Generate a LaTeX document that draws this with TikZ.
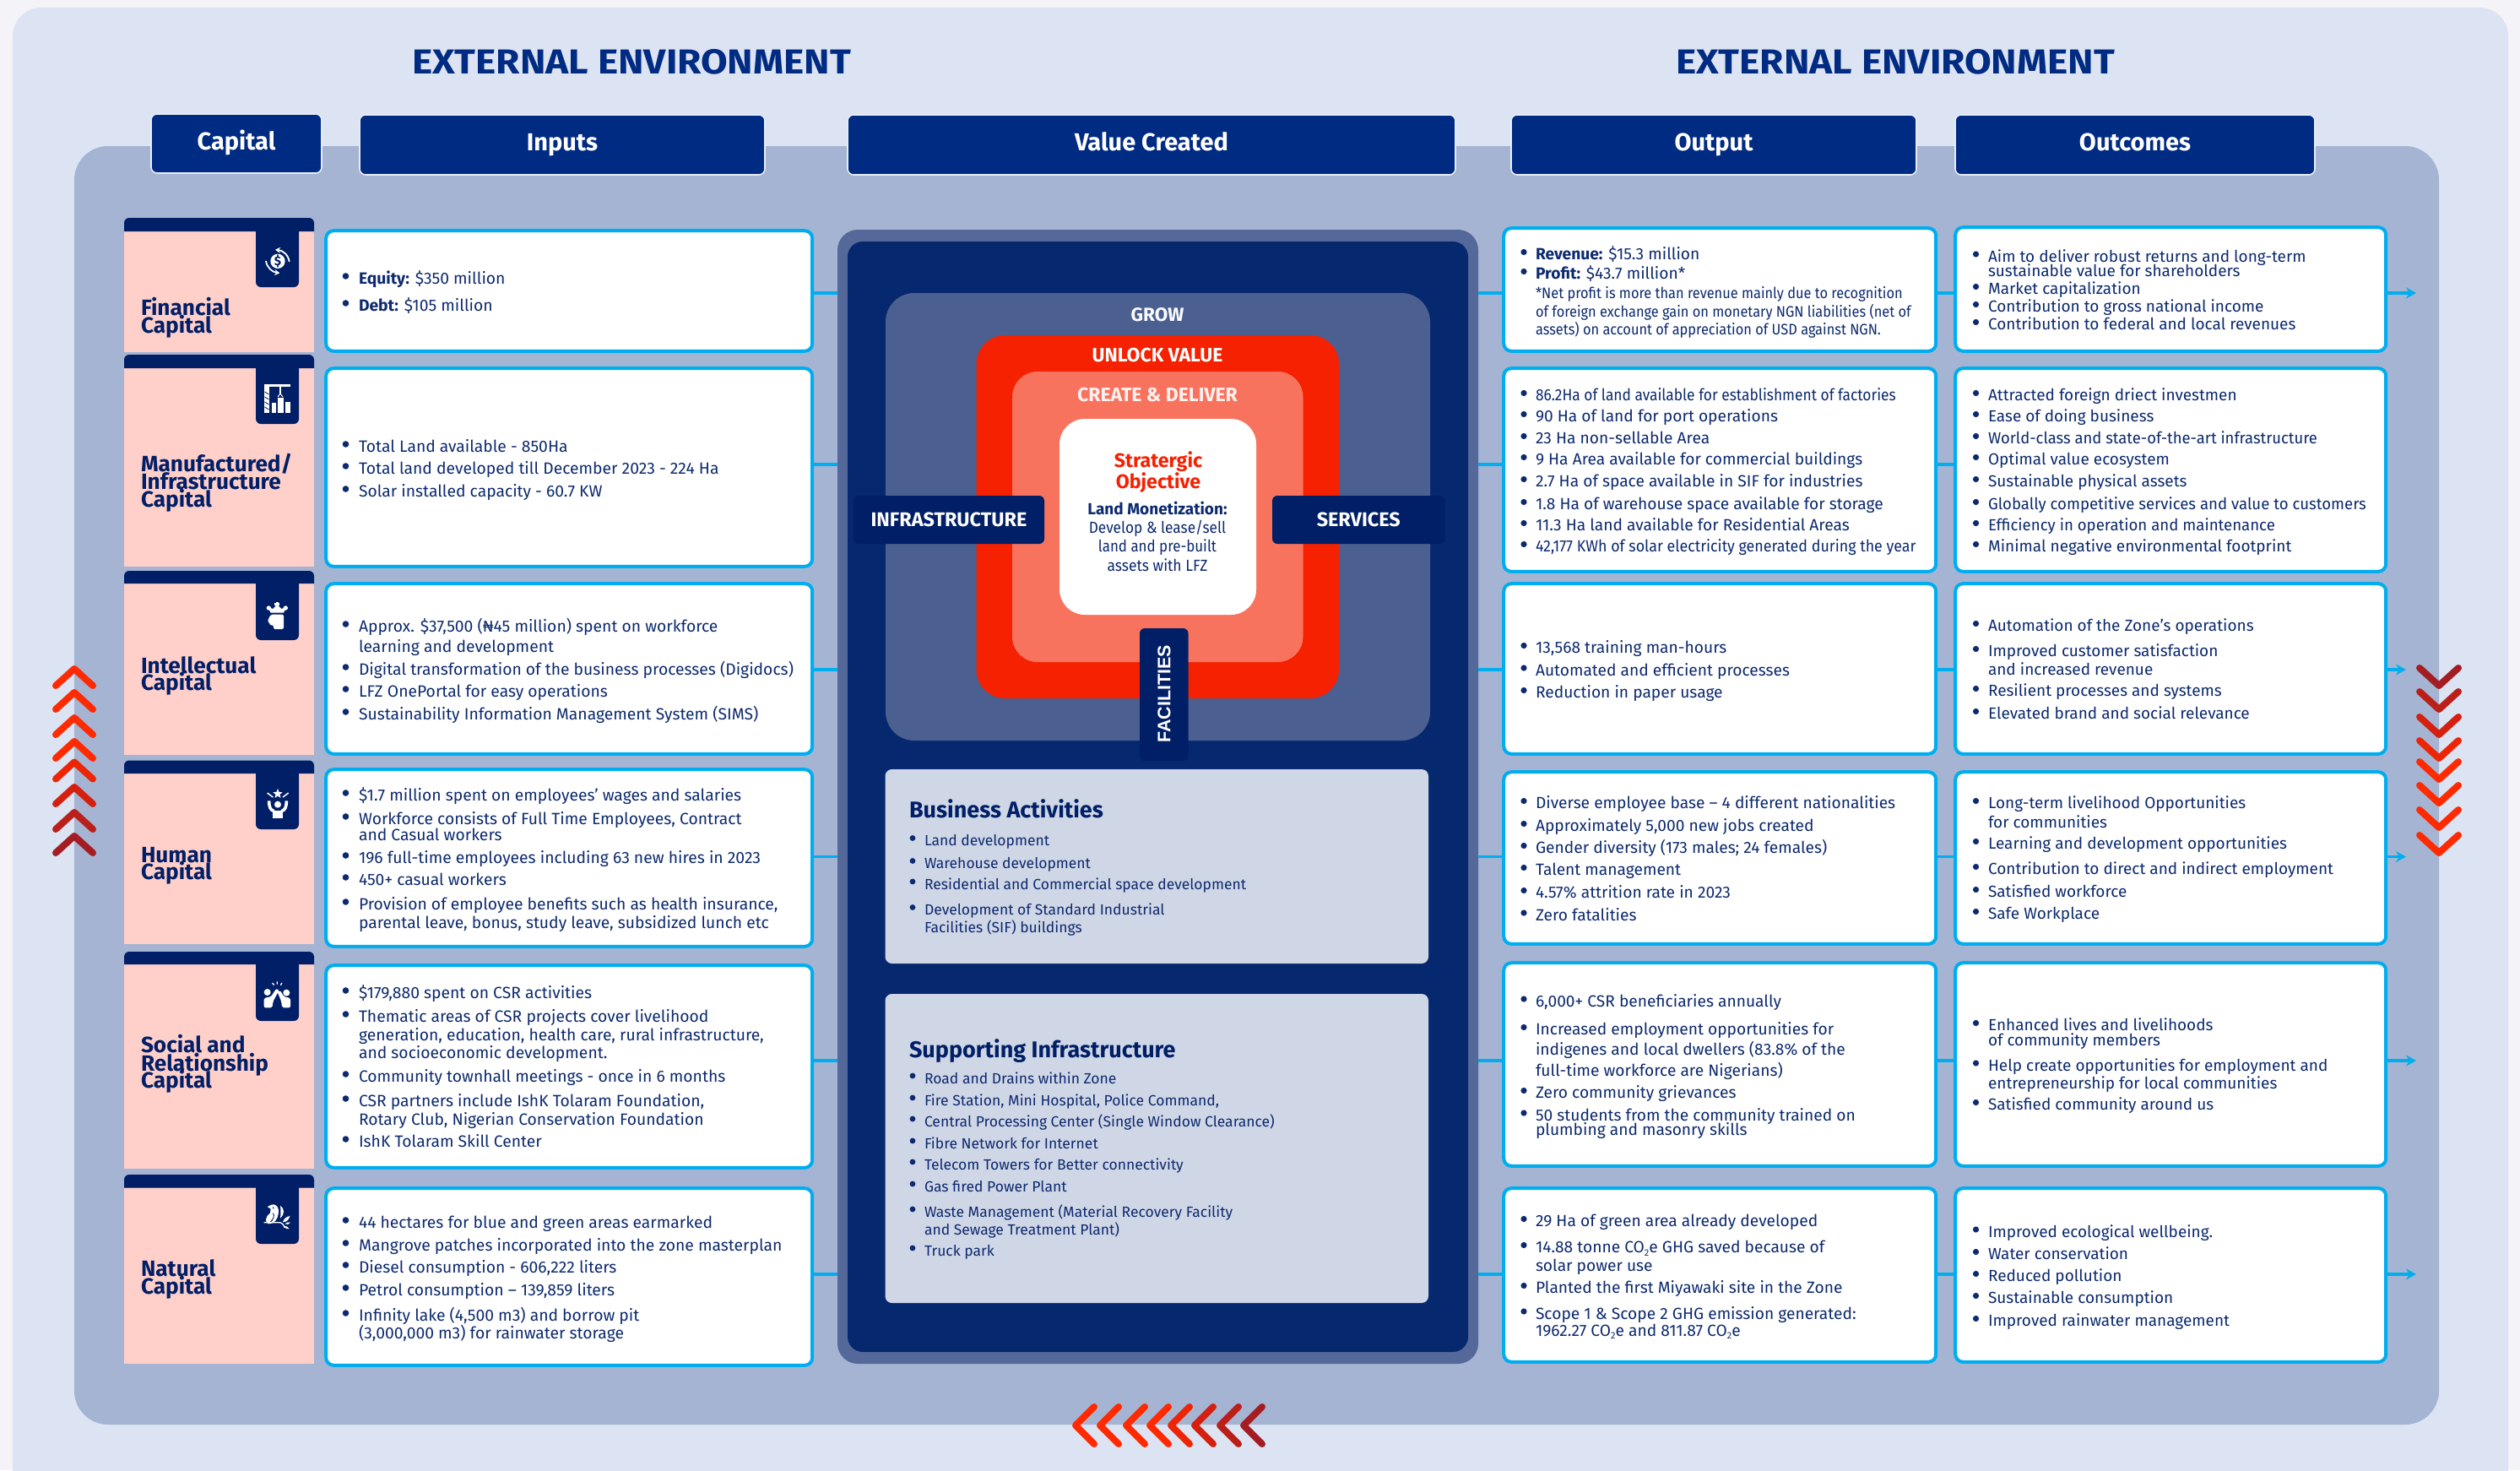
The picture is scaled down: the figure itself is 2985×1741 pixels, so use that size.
\documentclass[tikz,border=0pt]{standalone}
\usepackage{fontspec}
\usepackage{graphicx}
\setmainfont{Fira Sans}
\newfontfamily\facfont{Liberation Sans}
\newfontfamily\titlefont[FakeStretch=1.12]{Fira Sans}
\usetikzlibrary{arrows.meta,shapes.geometric}
\definecolor{pagebg}{HTML}{F3F3F8}
\definecolor{lightp}{HTML}{DCE3F2}
\definecolor{midp}{HTML}{A5B4D3}
\definecolor{headb}{HTML}{002B82}
\definecolor{headl}{HTML}{E8ECF5}
\definecolor{titlec}{HTML}{002B82}
\definecolor{tabc}{HTML}{001F66}
\definecolor{pinkc}{HTML}{FFCFC9}
\definecolor{cyanc}{HTML}{00AEEF}
\definecolor{txtc}{HTML}{0D2A6E}
\definecolor{vouter}{HTML}{54699A}
\definecolor{vinner}{HTML}{06286E}
\definecolor{growc}{HTML}{4B6090}
\definecolor{redc}{HTML}{F52100}
\definecolor{salmon}{HTML}{F8735E}
\definecolor{greyb}{HTML}{CFD6E6}
\definecolor{chA}{HTML}{FF2A00}
\definecolor{chB}{HTML}{EE2505}
\definecolor{chC}{HTML}{D5200F}
\definecolor{chD}{HTML}{BB1F1A}
\definecolor{chE}{HTML}{A31D22}
\newcounter{tn}
\newcommand\fsz[1]{\fontsize{#1}{#1}\selectfont}
\newcommand\hs[2]{\scalebox{#1}[1]{#2}}
\def\lsz{19.4}
% generic box: style, name, x1,y1,x2,y2, text
\newcommand\bx[7]{%
  \pgfmathsetmacro\bw{#5-#3}\pgfmathsetmacro\bh{#6-#4}%
  \pgfmathsetmacro\bcx{(#3+#5)/2}\pgfmathsetmacro\bcy{(#4+#6)/2}%
  \node[#1,minimum width=\bw pt,minimum height=\bh pt,inner sep=0pt,outer sep=0pt] (#2) at (\bcx,\bcy) {#7};}
% white box given by outer edges
\newcommand\wb[5]{%
  \pgfmathsetmacro\wxa{#2+1.2}\pgfmathsetmacro\wya{#3+1.2}\pgfmathsetmacro\wxb{#4-0.8}\pgfmathsetmacro\wyb{#5-1.2}%
  \bx{whitebox}{#1}{\wxa}{\wya}{\wxb}{\wyb}{}}
% text lines
\newcommand\tl[4][listtxt]{\stepcounter{tn}\node[#1] (t\thetn) at (#2,#3) {#4};}
\newcommand\tc[4][]{\stepcounter{tn}\node[centertxt,#1] (t\thetn) at (#2,#3) {#4};}
\def\bux{409.5}\def\txx{425}\def\burad{3.6}
\newcommand\bu[3][listtxt]{\fill[txtc] (\bux,#2-9) circle (\burad);\tl[#1]{\txx}{#2}{#3}}
\newcommand\co[3][listtxt]{\tl[#1]{\txx}{#2}{#3}}
\newcommand\captxt[2]{\tl[captxt]{167}{#1}{#2}}
\newcommand\stwo{\raisebox{-3.5pt}{\fsz{11}2}}
% capital block: name, ytop, ybar, yicon, ybottom
\newcommand\capblock[5]{%
  \bx{pinkbox}{#1}{147}{#3}{372}{#5}{}%
  \fill[tabc] (147,#3) [rounded corners=6] -- (147,#2) -- (372,#2) [sharp corners] -- (372,#3) -- cycle;%
  \fill[tabc,rounded corners=6] (303,#3-5) -- (303,#4) -- (354,#4) -- (354,#3-5) -- cycle;}
\newcommand\chevh[4]{\draw[chevron,#1] (#2+22,#3-22) -- (#2,#3) -- (#2+22,#3+22);}
\tikzset{
  x=1pt,y=-1pt,
  headbox/.style={draw=headl,line width=1.6pt,fill=headb,rounded corners=7pt,text=white,font=\fsz{29}\bfseries,text height=20pt,text depth=6pt},
  whitebox/.style={draw=cyanc,line width=4pt,fill=white,rounded corners=9pt},
  pinkbox/.style={fill=pinkc},
  listtxt/.style={anchor=base west,inner sep=0pt,outer sep=0pt,text=txtc,font=\fsz{\lsz}},
  smalltxt/.style={listtxt,font=\fsz{18}},
  midtxt/.style={listtxt,font=\fsz{17.5}},
  captxt/.style={listtxt,text=tabc,font=\fsz{26.2}\bfseries},
  boxtitle/.style={listtxt,text=tabc,font=\fsz{27}\bfseries},
  centertxt/.style={anchor=base,inner sep=0pt,outer sep=0pt,text=txtc},
  conn/.style={draw=cyanc,line width=3.4pt},
  connarr/.style={conn,-{Stealth[length=12pt,width=13pt]}},
  chevron/.style={line width=8pt,line cap=round,line join=round},
  tabtxt/.style={fill=tabc,rounded corners=6pt,text=white},
  ico/.style={fill=white,draw=none},
}
\begin{document}
\begin{tikzpicture}
\useasboundingbox (0,0) rectangle (2985,1741);
\clip (0,0) rectangle (2985,1741);
\fill[pagebg] (0,0) rectangle (2985,1741);
\fill[lightp,rounded corners=34pt] (15,9) rectangle (2971,1790);
\fill[midp,rounded corners=40pt] (88,173) rectangle (2889,1687);
% titles
\tc[font=\titlefont\fsz{41}\bfseries,text=titlec]{748}{87}{EXTERNAL ENVIRONMENT}
\tc[font=\titlefont\fsz{41}\bfseries,text=titlec]{2245}{87}{EXTERNAL ENVIRONMENT}
% headers
\bx{headbox}{hCap}{179}{135}{381}{205}{Capital}
\bx{headbox}{hInp}{426}{136}{906}{207}{Inputs}
\bx{headbox}{hVal}{1004}{136}{1724}{207}{Value Created}
\bx{headbox}{hOut}{1790}{136}{2270}{207}{Output}
\bx{headbox}{hOc}{2316}{136}{2742}{207}{Outcomes}
% value panel
\bx{fill=vouter,rounded corners=24pt}{vOuter}{992}{272}{1751}{1615}{}
\bx{fill=vinner,rounded corners=18pt}{vInner}{1004}{286}{1739}{1601}{}
\bx{fill=growc,rounded corners=34pt}{grow}{1049}{347}{1694}{877}{}
\bx{fill=redc,rounded corners=34pt}{unlock}{1156.5}{397}{1586}{827}{}
\bx{fill=salmon,rounded corners=30pt}{create}{1199}{440}{1543.5}{784}{}
\bx{fill=white,rounded corners=30pt}{core}{1255}{496}{1488}{728}{}
\tc[text=white!90!lightp,font=\fsz{22.5}\bfseries]{1371}{380}{GROW}
\tc[text=white,font=\fsz{23}\bfseries]{1371}{428}{UNLOCK VALUE}
\tc[text=white!90!salmon,font=\fsz{23}\bfseries]{1371}{475}{CREATE \& DELIVER}
\tc[text=redc,font=\fsz{23.2}\bfseries]{1372}{553}{Stratergic}
\tc[text=redc,font=\fsz{23.2}\bfseries]{1372}{578}{Objective}
\tc[font=\fsz{19}\bfseries]{1371}{609}{Land Monetization:}
\tc[font=\fsz{19}]{1371}{631}{\hs{.91}{Develop \& lease/sell}}
\tc[font=\fsz{19}]{1371}{653}{\hs{.89}{land and pre-built}}
\tc[font=\fsz{19}]{1371}{676}{\hs{.92}{assets with LFZ}}
\bx{tabtxt,font=\fsz{23.4}\bfseries}{infra}{1011}{587}{1237}{644}{INFRASTRUCTURE}
\bx{tabtxt,font=\fsz{23.4}\bfseries}{serv}{1507}{587}{1711.5}{644}{SERVICES}
\bx{fill=tabc,rounded corners=6pt}{facbox}{1350}{744}{1407.5}{901}{}
\node[rotate=90,text=white,font=\facfont\fsz{21.5}\bfseries,inner sep=0pt] (facl) at (1379,822) {FACILITIES};
% business activities
\bx{fill=greyb,rounded corners=8pt}{busb}{1048.5}{911}{1692}{1141}{}
\bx{fill=greyb,rounded corners=8pt}{supb}{1048.5}{1177}{1692}{1543}{}
\def\bux{1081}\def\txx{1095}\def\burad{3.4}
\tl[boxtitle]{1077}{968}{Business Activities}
\bu[midtxt]{1001.5}{Land development}
\bu[midtxt]{1028.5}{Warehouse development}
\bu[midtxt]{1053}{Residential and Commercial space development}
\bu[midtxt]{1083.5}{Development of Standard Industrial}
\co[midtxt]{1104}{Facilities (SIF) buildings}
\tl[boxtitle]{1077}{1252}{Supporting Infrastructure}
\bu[midtxt]{1283}{Road and Drains within Zone}
\bu[midtxt]{1309}{Fire Station, Mini Hospital, Police Command,}
\bu[midtxt]{1334}{Central Processing Center (Single Window Clearance)}
\bu[midtxt]{1360}{Fibre Network for Internet}
\bu[midtxt]{1385}{Telecom Towers for Better connectivity}
\bu[midtxt]{1411}{Gas fired Power Plant}
\bu[midtxt]{1441}{Waste Management (Material Recovery Facility}
\co[midtxt]{1462}{and Sewage Treatment Plant)}
\bu[midtxt]{1487}{Truck park}
% capital blocks
\capblock{cFin}{258}{274}{340}{417}
\capblock{cMan}{420}{436}{502}{671}
\capblock{cInt}{676}{691}{758}{894}
\capblock{cHum}{900.5}{916}{982}{1118}
\capblock{cSoc}{1127}{1142}{1209}{1384}
\capblock{cNat}{1391}{1406.5}{1473}{1615}
\captxt{373}{Financial}\captxt{394}{Capital}
\captxt{558}{Manufactured/}\captxt{579}{Infrastructure}\captxt{600}{Capital}
\captxt{797}{Intellectual}\captxt{817.5}{Capital}
\captxt{1021}{Human}\captxt{1041}{Capital}
\captxt{1246}{Social and}\captxt{1268}{Relationship}\captxt{1288}{Capital}
\captxt{1511}{Natural}\captxt{1532}{Capital}
% icons
\begin{scope}[shift={(300,275)},scale=1/3]
 \fill[white] (87,103) circle (26);
 \node[text=tabc,font=\fsz{15}\bfseries,inner sep=0pt] (icDollar) at (87,103) {\$};
 \draw[white,line width=1.8pt,-{Stealth[length=6pt,width=7pt]}] (128,105) .. controls (125,80) and (105,65) .. (78,62);
 \draw[white,line width=1.8pt,-{Stealth[length=6pt,width=7pt]}] (45,102) .. controls (48,125) and (68,142) .. (94,145);
\end{scope}
\begin{scope}[shift={(313,455)}]
 \fill[white] (0,0) rectangle (31,3);
 \fill[white] (0,3) rectangle (6,34);
 \foreach \yy in {9,15,21,27}{\draw[tabc,line width=.8pt] (0.5,\yy) -- (5.5,\yy+3);}
 \draw[white,line width=1.2pt] (19,3) -- (19,12);
 \draw[white,line width=1pt] (16,15) -- (19,11) -- (22,15);
 \fill[white] (9,22) rectangle (14,34);
 \fill[white] (16,16) rectangle (23,34);
 \fill[white] (25,21) rectangle (31,34);
\end{scope}
\begin{scope}[shift={(300,695)},scale=1/3]
 \fill[white,rounded corners=2pt] (62,98) -- (108,98) -- (108,150) -- (72,150) -- (72,136) -- (58,136) -- (58,124) -- (50,122) -- (58,106) -- cycle;
 \fill[white] (52,72) -- (70,78) -- (85,62) -- (100,78) -- (118,72) -- (108,92) -- (62,92) -- cycle;
 \fill[white] (81,54) rectangle (89,70);
 \fill[white] (76,58) rectangle (94,65);
 \fill[white] (55,75) circle (8);\fill[white] (115,75) circle (8);
\end{scope}
\begin{scope}[shift={(300,920)},scale=1/3]
 \node[star,star points=5,star point ratio=2.3,fill=white,minimum size=12pt,inner sep=0pt] (icStar) at (87,60) {};
 \draw[white,line width=1.5pt] (50,57) -- (70,72);
 \draw[white,line width=1.5pt] (125,57) -- (105,72);
 \fill[white] (87,98) circle (12);
 \draw[white,line width=3.6pt] (56,85) .. controls (56,110) and (62,118) .. (74,122);
 \draw[white,line width=3.6pt] (118,85) .. controls (118,110) and (112,118) .. (100,122);
 \fill[white] (68,120) rectangle (106,146);
\end{scope}
\begin{scope}[shift={(300,1150)},scale=1/3]
 \fill[white] (50,75) circle (12);\fill[white] (118,77) circle (12);
 \fill[white,rounded corners=2pt] (38,130) -- (38,95) -- (62,92) -- (82,62) -- (92,68) -- (70,108) -- (68,130) -- cycle;
 \fill[white,rounded corners=2pt] (132,130) -- (132,95) -- (110,92) -- (95,68) -- (85,72) -- (100,108) -- (102,130) -- cycle;
 \draw[white,line width=1.3pt] (68,42) -- (74,50) (85,37) -- (85,47) (102,42) -- (97,50);
\end{scope}
\begin{scope}[shift={(300,1410)},scale=1/3]
 \fill[white] (50,57) -- (65,50) .. controls (85,45) and (92,65) .. (90,78) .. controls (88,100) and (75,118) .. (55,118) .. controls (40,115) and (42,92) .. (60,80) -- (62,65) -- cycle;
 \draw[tabc,line width=.9pt] (70,80) .. controls (78,88) and (70,105) .. (60,112);
 \fill[tabc] (71,61) circle (3);
 \fill[white] (96,54) .. controls (112,62) and (112,85) .. (96,98) .. controls (98,80) and (98,70) .. (96,54) -- cycle;
 \draw[white,line width=1.3pt] (38,113) -- (92,113) .. controls (100,113) and (108,120) .. (112,132);
 \fill[white] (105,112) .. controls (108,100) and (118,92) .. (130,90) .. controls (128,102) and (118,112) .. (105,112) -- cycle;
 \fill[white] (112,118) .. controls (118,112) and (124,112) .. (132,113) .. controls (128,120) and (120,122) .. (112,118) -- cycle;
 \fill[white] (110,126) .. controls (116,124) and (124,128) .. (128,136) .. controls (120,138) and (112,134) .. (110,126) -- cycle;
\end{scope}
% white boxes
\wb{i1}{385}{272}{963}{417}
\wb{i2}{385}{435}{963}{672}
\wb{i3}{385}{690}{963}{894}
\wb{i4}{385}{910}{963}{1122}
\wb{i5}{385}{1142}{963}{1384}
\wb{i6}{385}{1406}{963}{1618}
\wb{o1}{1780}{269}{2294}{417}
\wb{o2}{1780}{435}{2294}{678}
\wb{o3}{1780}{690}{2294}{894}
\wb{o4}{1780}{913}{2294}{1119}
\wb{o5}{1780}{1139}{2294}{1382}
\wb{o6}{1780}{1406}{2294}{1614}
\wb{r1}{2315}{268}{2827}{417}
\wb{r2}{2315}{435}{2827}{678}
\wb{r3}{2315}{690}{2827}{894}
\wb{r4}{2315}{913}{2827}{1119}
\wb{r5}{2315}{1139}{2827}{1382}
\wb{r6}{2315}{1406}{2827}{1614}
% connectors
\foreach \r/\yy in {1/347,2/550,3/793,4/1014.5,5/1256,6/1509}{
  \coordinate (rowL\r) at (vOuter.west |- {(0,\yy)});
  \coordinate (rowR\r) at (vOuter.east |- {(0,\yy)});
  \draw[conn] (i\r.east |- rowL\r) -- (rowL\r);
  \draw[conn] (rowR\r) -- (o\r.west |- rowL\r);
  \draw[conn] (o\r.east |- rowL\r) -- (r\r.west |- rowL\r);
}
\coordinate (endA) at (2862,347);
\coordinate (endC) at (2850,793);
\coordinate (endD) at (2850,1014.5);
\coordinate (endE) at (2862,1256);
\coordinate (endF) at (2862,1509);
\draw[connarr] (r1.east |- endA) -- (endA);
\draw[connarr] (r3.east |- endC) -- (endC);
\draw[connarr] (r4.east |- endD) -- (endD);
\draw[connarr] (r5.east |- endE) -- (endE);
\draw[connarr] (r6.east |- endF) -- (endF);
% inputs text
\def\bux{409.5}\def\txx{425}\def\burad{3.8}\def\lsz{19.3}
\bu{336}{\textbf{Equity:} \$350 million}
\bu{368}{\textbf{Debt:} \$105 million}
\bu{535}{Total Land available - 850Ha}
\bu{561}{Total land developed till December 2023 - 224 Ha}
\bu{588}{Solar installed capacity - 60.7 KW}
\bu{748}{Approx. \$37,500 (₦45 million) spent on workforce}
\co{772}{learning and development}
\bu{799}{Digital transformation of the business processes (Digidocs)}
\bu{825}{LFZ OnePortal for easy operations}
\bu{852}{Sustainability Information Management System (SIMS)}
\bu{948}{\$1.7 million spent on employees’ wages and salaries}
\bu{976}{Workforce consists of Full Time Employees, Contract}
\co{995}{and Casual workers}
\bu{1022}{196 full-time employees including 63 new hires in 2023}
\bu{1048}{450+ casual workers}
\bu{1077}{Provision of employee benefits such as health insurance,}
\co{1099}{parental leave, bonus, study leave, subsidized lunch etc}
\bu{1182}{\$179,880 spent on CSR activities}
\bu{1210}{Thematic areas of CSR projects cover livelihood}
\co{1232}{generation, education, health care, rural infrastructure,}
\co{1253}{and socioeconomic development.}
\bu{1281}{Community townhall meetings - once in 6 months}
\bu{1310}{CSR partners include IshK Tolaram Foundation,}
\co{1332}{Rotary Club, Nigerian Conservation Foundation}
\bu{1358}{IshK Tolaram Skill Center}
\bu{1454}{44 hectares for blue and green areas earmarked}
\bu{1481}{Mangrove patches incorporated into the zone masterplan}
\bu{1507}{Diesel consumption - 606,222 liters}
\bu{1534}{Petrol consumption – 139,859 liters}
\bu{1564}{Infinity lake (4,500 m3) and borrow pit}
\co{1585}{(3,000,000 m3) for rainwater storage}
% output text
\def\bux{1805}\def\txx{1819}\def\burad{3.6}\def\lsz{19.2}
\bu{307.5}{\textbf{Revenue:} \$15.3 million}
\bu{330.5}{\textbf{Profit:} \$43.7 million*}
\co[smalltxt]{353.5}{\hs{.91}{*Net profit is more than revenue mainly due to recognition}}
\co[smalltxt]{375}{\hs{.91}{of foreign exchange gain on monetary NGN liabilities (net of}}
\co[smalltxt]{396.5}{\hs{.91}{assets) on account of appreciation of USD against NGN.}}
\bu{474.5}{\hs{.905}{86.2Ha of land available for establishment of factories}}
\bu{499.5}{90 Ha of land for port operations}
\bu{525.5}{23 Ha non-sellable Area}
\bu{550.5}{9 Ha Area available for commercial buildings}
\bu{576.5}{2.7 Ha of space available in SIF for industries}
\bu{603.5}{1.8 Ha of warehouse space available for storage}
\bu{628.5}{11.3 Ha land available for Residential Areas}
\bu{653.5}{\hs{.93}{42,177 KWh of solar electricity generated during the year}}
\bu{773.5}{13,568 training man-hours}
\bu{800}{Automated and efficient processes}
\bu{826.5}{Reduction in paper usage}
\bu{957.5}{Diverse employee base – 4 different nationalities}
\bu{984.5}{Approximately 5,000 new jobs created}
\bu{1010.5}{Gender diversity (173 males; 24 females)}
\bu{1036.5}{Talent management}
\bu{1063.5}{4.57\% attrition rate in 2023}
\bu{1090}{Zero fatalities}
\bu{1192}{6,000+ CSR beneficiaries annually}
\bu{1225.5}{Increased employment opportunities for}
\co{1249.5}{indigenes and local dwellers (83.8\% of the}
\co{1274}{full-time workforce are Nigerians)}
\bu{1300.5}{Zero community grievances}
\bu{1327}{50 students from the community trained on}
\co{1344.5}{plumbing and masonry skills}
\bu{1452.5}{29 Ha of green area already developed}
\bu{1483.5}{14.88 tonne CO\stwo e GHG saved because of}
\co{1505.5}{solar power use}
\bu{1531.5}{Planted the first Miyawaki site in the Zone}
\bu{1562}{Scope 1 \& Scope 2 GHG emission generated:}
\co{1582}{1962.27 CO\stwo e and 811.87 CO\stwo e}
% outcomes text
\def\bux{2340.5}\def\txx{2355}\def\lsz{19}
\bu{310}{Aim to deliver robust returns and long-term}
\co{327.5}{sustainable value for shareholders}
\bu{348.5}{Market capitalization}
\bu{369.5}{Contribution to gross national income}
\bu{390.5}{Contribution to federal and local revenues}
\bu{474.5}{Attracted foreign driect investmen}
\bu{499.5}{Ease of doing business}
\bu{525.5}{\hs{.97}{World-class and state-of-the-art infrastructure}}
\bu{550.5}{Optimal value ecosystem}
\bu{576.5}{Sustainable physical assets}
\bu{603.5}{\hs{.98}{Globally competitive services and value to customers}}
\bu{628.5}{\hs{.98}{Efficiency in operation and maintenance}}
\bu{653.5}{Minimal negative environmental footprint}
\bu{747.5}{Automation of the Zone’s operations}
\bu{777.5}{Improved customer satisfaction}
\co{799}{and increased revenue}
\bu{824.5}{Resilient processes and systems}
\bu{851.5}{Elevated brand and social relevance}
\bu{957.5}{Long-term livelihood Opportunities}
\co{980}{for communities}
\bu{1005.5}{Learning and development opportunities}
\bu{1035.5}{Contribution to direct and indirect employment}
\bu{1062.5}{Satisfied workforce}
\bu{1088.5}{Safe Workplace}
\bu{1220.5}{Enhanced lives and livelihoods}
\co{1238}{of community members}
\bu{1268}{Help create opportunities for employment and}
\co{1289}{entrepreneurship for local communities}
\bu{1314.5}{Satisfied community around us}
\bu{1465}{Improved ecological wellbeing.}
\bu{1491.5}{Water conservation}
\bu{1517.5}{Reduced pollution}
\bu{1543.5}{Sustainable consumption}
\bu{1570.5}{Improved rainwater management}
% chevrons
\foreach \t/\c in {788/chA,816/chA,846/chA,874/chA,898.5/chB,928/chC,958/chD,986/chE}{
  \draw[chevron,\c] (66,\t+24) -- (88,\t+4) -- (110,\t+24);
}
\foreach \t/\c in {816/chE,844/chD,874/chC,902/chB,927/chA,955/chA,984/chA,1014/chA}{
  \draw[chevron,\c] (2866,\t-25) -- (2889,\t-4) -- (2912,\t-25);
}
\foreach \t/\c in {1274/chA,1303/chA,1334/chA,1362/chA,1387/chB,1415/chC,1445/chD,1473/chE}{
  \chevh{\c}{\t}{1688}{}
}
\end{tikzpicture}
\end{document}
